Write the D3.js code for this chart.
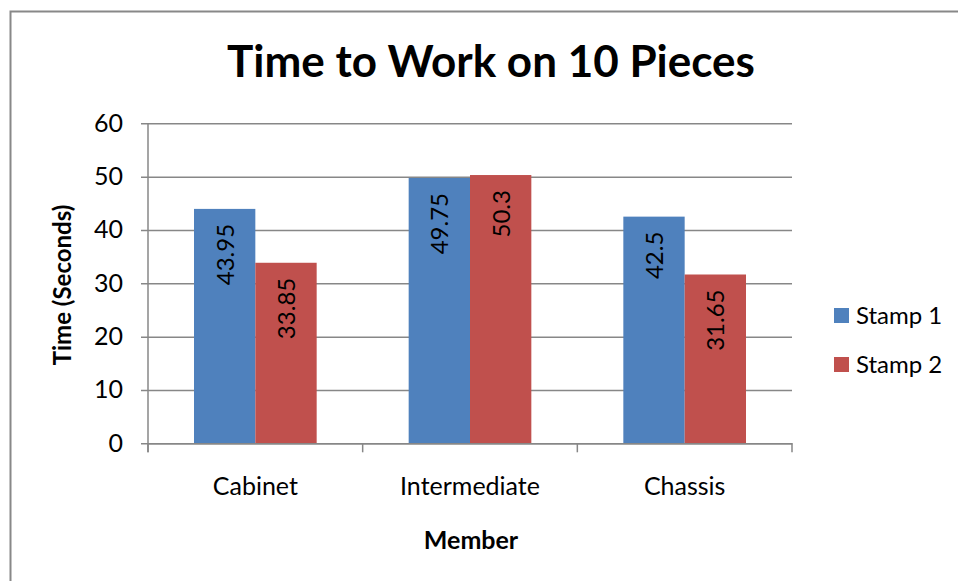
<!DOCTYPE html>
<meta charset="utf-8">
<title>Time to Work on 10 Pieces</title>
<style>
    body {
        margin: 0;
        background: #fff;
    }

    text {
        font-family: Lato, "Open Sans", sans-serif;
        fill: #000;
    }
</style>
<body>
<script src="https://cdn.jsdelivr.net/npm/d3@7"></script>
<script>
    var categories = ["Cabinet", "Intermediate", "Chassis"];
    var seriesNames = ["Stamp 1", "Stamp 2"];
    var stamp1 = [43.95, 49.75, 42.5];
    var stamp2 = [33.85, 50.3, 31.65];
    var yTicks = [0, 10, 20, 30, 40, 50, 60];
    var colors = ["#4F81BD", "#C0504D"];

    var W = 958, H = 581;
    var plotL = 148, plotR = 792, plotT = 123.3, plotB = 443.3;

    var svg = d3.select("body").append("svg")
        .attr("width", W)
        .attr("height", H);

    // chart border
    svg.append("rect")
        .attr("x", 10.5)
        .attr("y", 11.5)
        .attr("width", W + 10)
        .attr("height", H + 10)
        .attr("fill", "none")
        .attr("stroke", "#888")
        .attr("stroke-width", 2);

    var x = d3.scaleBand().domain(categories).range([plotL, plotR]);
    var gap = 1.5; // Excel style gap width
    var bw = x.bandwidth() / (2 + gap);
    var xs = d3.scaleBand().domain(seriesNames)
        .range([bw * gap / 2, bw * gap / 2 + 2 * bw]);
    var y = d3.scaleLinear().domain([0, 60]).range([plotB, plotT]);

    // gridlines + y axis
    var yAxis = d3.axisLeft(y).tickValues(yTicks).tickSize(-(plotR - plotL)).tickPadding(25);
    var gy = svg.append("g").attr("transform", "translate(" + plotL + ",0)").call(yAxis);
    gy.select(".domain").remove();
    gy.selectAll(".tick line")
        .attr("x1", -7)
        .attr("stroke", "#878787")
        .attr("stroke-width", 1.5);
    gy.selectAll(".tick text").attr("font-size", 25);

    var series = [stamp1, stamp2];
    series.forEach(function (vals, si) {
        svg.append("g").selectAll("rect")
            .data(vals)
            .enter()
            .append("rect")
            .attr("x", function (d, i) { return x(categories[i]) + xs(seriesNames[si]); })
            .attr("y", function (d) { return y(d); })
            .attr("width", xs.bandwidth())
            .attr("height", function (d) { return plotB - y(d); })
            .attr("fill", colors[si]);

        svg.append("g").selectAll("text")
            .data(vals)
            .enter()
            .append("text")
            .attr("transform", function (d, i) {
                var cx = x(categories[i]) + xs(seriesNames[si]) + xs.bandwidth() / 2;
                return "translate(" + (cx + 9) + "," + (y(d) + 15) + ") rotate(-90)";
            })
            .attr("text-anchor", "end")
            .attr("font-size", 24)
            .text(function (d) { return d; });
    });

    // y axis line
    svg.append("line")
        .attr("x1", plotL).attr("x2", plotL)
        .attr("y1", plotT).attr("y2", plotB + 9)
        .attr("stroke", "#878787").attr("stroke-width", 1.5);

    // x axis
    var xAxis = d3.axisBottom(x).tickSize(0).tickPadding(34);
    var gx = svg.append("g").attr("transform", "translate(0," + plotB + ")").call(xAxis);
    gx.select(".domain").attr("stroke", "#878787").attr("stroke-width", 1.5);
    gx.selectAll(".tick text").attr("font-size", 25);
    var bounds = categories.map(function (c) { return x(c); }).concat([plotR]);
    gx.selectAll(".sep")
        .data(bounds)
        .enter()
        .append("line")
        .attr("x1", function (d) { return d; })
        .attr("x2", function (d) { return d; })
        .attr("y1", 0).attr("y2", 9)
        .attr("stroke", "#878787").attr("stroke-width", 1.5);

    // titles
    svg.append("text")
        .attr("x", 491).attr("y", 77)
        .attr("text-anchor", "middle")
        .attr("font-size", 44)
        .attr("font-weight", "bold")
        .text("Time to Work on 10 Pieces");

    svg.append("text")
        .attr("transform", "translate(71,285) rotate(-90)")
        .attr("text-anchor", "middle")
        .attr("font-size", 24)
        .attr("font-weight", "bold")
        .text("Time (Seconds)");

    svg.append("text")
        .attr("x", 471).attr("y", 549)
        .attr("text-anchor", "middle")
        .attr("font-size", 25)
        .attr("font-weight", "bold")
        .text("Member");

    // legend
    var lg = svg.append("g").selectAll("g")
        .data(seriesNames)
        .enter()
        .append("g")
        .attr("transform", function (d, i) { return "translate(834," + (308 + i * 49) + ")"; });
    lg.append("rect")
        .attr("width", 15).attr("height", 15)
        .attr("fill", function (d, i) { return colors[i]; });
    lg.append("text")
        .attr("x", 22).attr("y", 16)
        .attr("font-size", 24)
        .text(function (d) { return d; });
</script>
</body>
